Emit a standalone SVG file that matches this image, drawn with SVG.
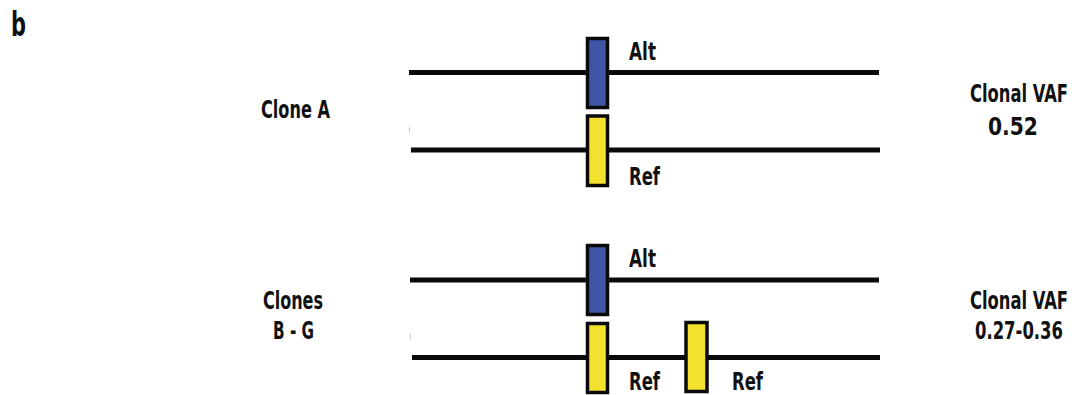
<svg xmlns="http://www.w3.org/2000/svg" width="1072" height="395" viewBox="0 0 1072 395">
<style>
text{font-family:"DejaVu Sans Condensed","Liberation Sans",sans-serif;font-weight:bold;fill:#111;font-size:25px}
.c{text-anchor:middle}
.ln{stroke:#0a0a0a;stroke-width:5;fill:none}
.alt{fill:#3F56A6;stroke:#0a0a0a;stroke-width:3.5}
.ref{fill:#F2E22E;stroke:#0a0a0a;stroke-width:3.5}
</style>
<rect width="1072" height="395" fill="#fff"/>
<text x="11" y="36" style="font-size:33px" textLength="15" lengthAdjust="spacingAndGlyphs">b</text>
<g id="connectors">
<line class="ln" x1="409" y1="72.5" x2="879" y2="72.5"/>
<line class="ln" x1="411" y1="150" x2="880" y2="150"/>
<line class="ln" x1="410" y1="280" x2="879" y2="280"/>
<line class="ln" x1="412" y1="357.5" x2="880" y2="357.5"/>
<line x1="409.5" y1="127" x2="409.5" y2="133" stroke="#ccc" stroke-width="1"/>
<line x1="410.5" y1="334" x2="410.5" y2="340" stroke="#ccc" stroke-width="1"/>
</g>
<g id="cloneA-alt">
<rect class="alt" x="587.5" y="38.5" width="20" height="69"/>
<text x="629" y="60" textLength="27" lengthAdjust="spacingAndGlyphs">Alt</text>
</g>
<g id="cloneA-ref">
<rect class="ref" x="587.5" y="116" width="20" height="69.5"/>
<text x="629" y="185" textLength="31" lengthAdjust="spacingAndGlyphs">Ref</text>
</g>
<g id="clonesBG-alt">
<rect class="alt" x="587.5" y="245.5" width="20" height="69"/>
<text x="629" y="267" textLength="27" lengthAdjust="spacingAndGlyphs">Alt</text>
</g>
<g id="clonesBG-ref1">
<rect class="ref" x="587.5" y="323.5" width="20" height="69"/>
<text x="629" y="390" textLength="31" lengthAdjust="spacingAndGlyphs">Ref</text>
</g>
<g id="clonesBG-ref2">
<rect class="ref" x="686" y="322.5" width="21" height="69"/>
<text x="732" y="390" textLength="31" lengthAdjust="spacingAndGlyphs">Ref</text>
</g>
<g id="label-cloneA">
<text class="c" x="295.5" y="118" textLength="69" lengthAdjust="spacingAndGlyphs">Clone A</text>
</g>
<g id="label-clonesBG">
<text class="c" x="293" y="309" textLength="60" lengthAdjust="spacingAndGlyphs">Clones</text>
<text class="c" x="293.5" y="339" textLength="41" lengthAdjust="spacingAndGlyphs">B - G</text>
</g>
<g id="vaf-A" transform="scale(0.7,1)">
<text class="c" x="1455.7" y="102" textLength="140" lengthAdjust="spacingAndGlyphs">Clonal VAF</text>
<text class="c" x="1447.1" y="135" textLength="71.4" lengthAdjust="spacingAndGlyphs">0.52</text>
</g>
<g id="vaf-BG" transform="scale(0.7,1)">
<text class="c" x="1455.7" y="309" textLength="140" lengthAdjust="spacingAndGlyphs">Clonal VAF</text>
<text class="c" x="1455.7" y="339" textLength="125.7" lengthAdjust="spacingAndGlyphs">0.27-0.36</text>
</g>
</svg>
